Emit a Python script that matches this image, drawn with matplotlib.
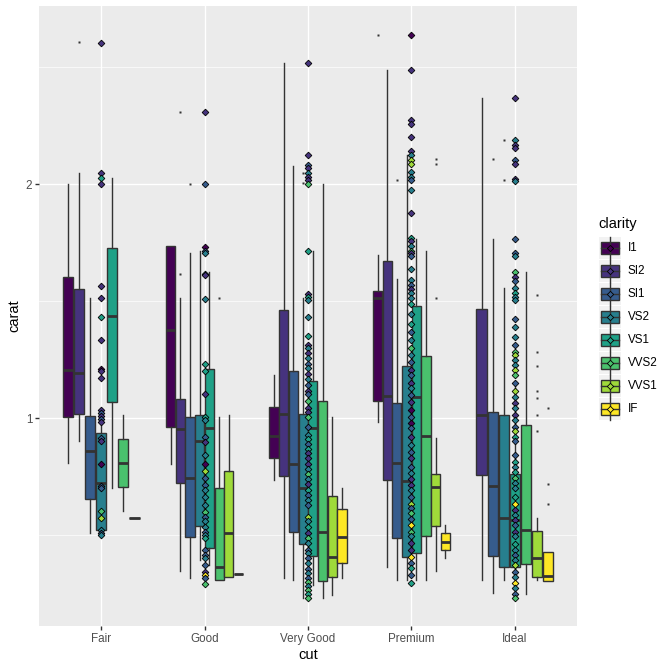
import matplotlib
matplotlib.use("Agg")
import matplotlib.pyplot as plt
from matplotlib.patches import Rectangle
from matplotlib.ticker import NullFormatter

plt.rcParams['font.family'] = ['Liberation Sans', 'DejaVu Sans']

cuts = ["Fair", "Good", "Very Good", "Premium", "Ideal"]
clarities = ["I1", "SI2", "SI1", "VS2", "VS1", "VVS2", "VVS1", "IF"]
colors = ["#440154", "#46337E", "#365C8D", "#277F8E",
          "#1FA187", "#4AC16D", "#9FDA3A", "#FDE725"]

# box stats: (lower whisker, q1, median, q3, upper whisker), carat
fair_groups = ["I1", "SI2", "SI1", "VS2", "VS1", "VVS2", "VVS1"]
fair_boxes = [(0.874, 1.002, 1.153, 1.517, 2.0), (0.935, 1.011, 1.144, 1.464, 2.065),
              (0.711, 0.786, 0.907, 1.007, 1.427), (0.707, 0.718, 0.824, 0.956, 1.009),
              (0.813, 1.048, 1.354, 1.657, 2.034), (0.760, 0.814, 0.876, 0.939, 1.009),
              (0.744, 0.744, 0.744, 0.744, 0.744)]
fair_outliers = [[], [3.045], [], [], [], [], []]

good_groups = ["I1", "SI2", "SI1", "VS2", "VS1", "VVS2", "VVS1", "IF"]
good_boxes = [(0.873, 0.973, 1.298, 1.663, 1.663), (0.635, 0.826, 0.969, 1.057, 1.425),
              (0.622, 0.702, 0.838, 1.002, 1.630), (0.657, 0.727, 0.935, 1.008, 1.639),
              (0.647, 0.681, 0.972, 1.155, 1.540), (0.619, 0.619, 0.644, 0.812, 1.002),
              (0.624, 0.624, 0.711, 0.854, 1.008), (0.630, 0.630, 0.630, 0.630, 0.630)]
good_outliers = [[], [2.478, 1.533], [2.0], [], [], [1.427], [], []]

vgood_groups = ["I1", "SI2", "SI1", "VS2", "VS1", "VVS2", "VVS1", "IF"]
vgood_boxes = [(0.831, 0.888, 0.949, 1.034, 1.136), (0.622, 0.842, 1.012, 1.379, 2.862),
               (0.619, 0.714, 0.873, 1.150, 2.110), (0.587, 0.688, 0.813, 1.013, 1.428),
               (0.610, 0.664, 0.972, 1.117, 1.639), (0.587, 0.617, 0.714, 1.051, 2.0),
               (0.592, 0.624, 0.663, 0.794, 1.002), (0.622, 0.650, 0.703, 0.763, 0.812)]
vgood_outliers = [[], [], [], [2.068, 2.006], [], [], [], []]

premium_groups = ["I1", "SI2", "SI1", "VS2", "VS1", "VVS2", "VVS1", "IF"]
premium_boxes = [(0.989, 1.052, 1.429, 1.455, 1.619), (0.644, 0.833, 1.067, 1.592, 2.800),
                 (0.618, 0.700, 0.875, 1.044, 1.510), (0.618, 0.663, 0.830, 1.166, 2.179),
                 (0.618, 0.670, 1.065, 1.393, 1.698), (0.618, 0.705, 0.949, 1.201, 1.639),
                 (0.635, 0.726, 0.814, 0.847, 0.943), (0.661, 0.676, 0.693, 0.711, 0.728)]
premium_outliers = [[3.109], [], [2.024], [], [], [], [2.155, 2.122, 1.428], []]

ideal_groups = ["SI2", "SI1", "VS2", "VS1", "VVS2", "VVS1", "IF"]
ideal_boxes = [(0.618, 0.844, 1.009, 1.383, 2.577), (0.596, 0.664, 0.818, 1.017, 1.699),
               (0.618, 0.643, 0.744, 1.008, 1.470), (0.601, 0.643, 0.739, 0.847, 1.103),
               (0.594, 0.649, 0.717, 0.979, 1.540), (0.619, 0.624, 0.661, 0.715, 0.743),
               (0.617, 0.617, 0.627, 0.672, 0.672)]
ideal_outliers = [[], [2.154], [2.278, 2.026], [], [],
                  [1.440, 1.216, 1.168, 1.084, 1.062, 1.009, 0.962], [1.030, 0.822, 0.776]]

# individual diamonds drawn at the cut centre: (carat, clarity index)
fair_pts = [(3.04, 1), (2.065, 1), (2.034, 4), (2.0, 1), (1.478, 1), (1.427, 1), (1.35, 4),
            (1.26, 1), (1.156, 0), (1.15, 1), (1.127, 1), (1.024, 1), (1.015, 2), (1.006, 1),
            (0.997, 2), (0.989, 1), (0.942, 2), (0.935, 1), (0.873, 0), (0.818, 2), (0.813, 2),
            (0.759, 5), (0.743, 6), (0.718, 3), (0.711, 2), (0.707, 3)]

good_pts = [(2.476, 1), (2.0, 2), (1.662, 0), (1.64, 2), (1.63, 3), (1.534, 3), (1.527, 1),
            (1.423, 3), (1.175, 4), (1.149, 4), (1.074, 1), (1.004, 4), (0.994, 3), (0.946, 2),
            (0.932, 1), (0.896, 3), (0.873, 0), (0.855, 6), (0.837, 2), (0.820, 2), (0.808, 3),
            (0.792, 3), (0.773, 3), (0.758, 5), (0.746, 2), (0.736, 3), (0.725, 3), (0.714, 2),
            (0.707, 3), (0.700, 4), (0.676, 2), (0.666, 2), (0.660, 3), (0.647, 2), (0.633, 1),
            (0.628, 7), (0.622, 2), (0.612, 5)]

vgood_pts = [(2.86, 1), (2.18, 1), (2.116, 2), (2.10, 1), (2.066, 3), (2.045, 1), (2.024, 1),
             (2.0, 5), (1.64, 4), (1.446, 1), (1.43, 4), (1.418, 3), (1.35, 3), (1.275, 4),
             (1.241, 1), (1.229, 3), (1.211, 1), (1.193, 3), (1.175, 2), (1.158, 3), (1.139, 1),
             (1.124, 3), (1.103, 2), (1.084, 1), (1.074, 2), (1.052, 5), (1.029, 1), (1.019, 1),
             (1.002, 5), (0.975, 2), (0.951, 3), (0.939, 4), (0.925, 2), (0.913, 4), (0.901, 1),
             (0.888, 1), (0.873, 1), (0.860, 3), (0.847, 5), (0.834, 3), (0.822, 1), (0.808, 4),
             (0.796, 2), (0.785, 3), (0.773, 2), (0.745, 6), (0.736, 3), (0.723, 4), (0.711, 1),
             (0.700, 5), (0.691, 3), (0.676, 2), (0.670, 3), (0.661, 2), (0.650, 3), (0.639, 2),
             (0.632, 3), (0.622, 2), (0.616, 5), (0.608, 3), (0.600, 5), (0.594, 4), (0.587, 5)]

premium_pts = [(3.109, 0), (2.80, 1), (2.42, 1), (2.387, 1), (2.30, 1), (2.207, 1), (2.179, 3),
               (2.15, 6), (2.122, 6), (2.075, 3), (2.045, 3), (2.024, 2), (1.965, 3), (1.834, 1),
               (1.703, 4), (1.69, 1), (1.664, 3), (1.639, 5), (1.628, 1), (1.615, 2), (1.554, 3),
               (1.507, 3), (1.483, 2), (1.464, 1), (1.447, 3), (1.425, 3), (1.40, 4), (1.36, 3),
               (1.323, 4), (1.291, 2), (1.260, 3), (1.229, 5), (1.205, 3), (1.181, 2), (1.153, 1),
               (1.136, 2), (1.108, 1), (1.092, 3), (1.070, 2), (1.050, 1), (1.024, 0), (1.004, 2),
               (0.986, 0), (0.970, 2), (0.946, 1), (0.923, 3), (0.905, 2), (0.888, 1), (0.866, 2),
               (0.849, 3), (0.834, 1), (0.820, 1), (0.808, 3), (0.792, 2), (0.775, 6), (0.765, 2),
               (0.754, 5), (0.741, 2), (0.728, 7), (0.714, 5), (0.704, 3), (0.690, 1), (0.676, 1),
               (0.662, 7), (0.650, 2), (0.641, 4), (0.628, 2), (0.614, 4)]

ideal_pts = [(2.577, 1), (2.277, 3), (2.243, 1), (2.223, 1), (2.15, 2), (2.122, 1), (2.03, 1),
             (2.017, 3), (1.698, 2), (1.628, 2), (1.615, 3), (1.539, 5), (1.519, 1), (1.50, 2),
             (1.469, 3), (1.45, 4), (1.43, 3), (1.418, 3), (1.341, 2), (1.311, 3), (1.27, 3),
             (1.24, 2), (1.217, 5), (1.205, 6), (1.187, 3), (1.170, 3), (1.153, 6), (1.136, 5),
             (1.108, 2), (1.084, 6), (1.065, 3), (1.046, 1), (1.029, 3), (1.009, 1), (0.994, 3),
             (0.975, 2), (0.963, 6), (0.946, 4), (0.935, 2), (0.896, 2), (0.879, 4), (0.866, 3),
             (0.853, 4), (0.837, 5), (0.824, 3), (0.813, 3), (0.792, 4), (0.775, 7), (0.761, 1),
             (0.750, 3), (0.739, 1), (0.728, 2), (0.714, 1), (0.704, 3), (0.689, 4), (0.676, 3),
             (0.666, 2), (0.657, 3), (0.647, 6), (0.634, 2), (0.625, 3), (0.614, 7), (0.604, 3),
             (0.594, 2), (0.587, 5)]

all_groups = [fair_groups, good_groups, vgood_groups, premium_groups, ideal_groups]
all_boxes = [fair_boxes, good_boxes, vgood_boxes, premium_boxes, ideal_boxes]
all_outliers = [fair_outliers, good_outliers, vgood_outliers, premium_outliers, ideal_outliers]
all_pts = [fair_pts, good_pts, vgood_pts, premium_pts, ideal_pts]

fig = plt.figure(figsize=(6.72, 6.71), dpi=100)
ax = fig.add_axes([39/672, 45/671, 538/672, 620/671])
ax.set_facecolor("#EBEBEB")
for s in ax.spines.values():
    s.set_visible(False)

ax.set_yscale('log', base=2)
ax.set_ylim(0.540, 3.389)
ax.set_xlim(0.4, 5.6)

dodge = 0.75
for i in range(len(cuts)):
    groups = all_groups[i]
    n = len(groups)
    slot = dodge / n
    for j, cl in enumerate(groups):
        lo, q1, med, q3, hi = all_boxes[i][j]
        st = dict(whislo=lo, q1=q1, med=med, q3=q3, whishi=hi, fliers=all_outliers[i][j])
        xpos = i + 1 - dodge / 2 + slot * (j + 0.5)
        art = ax.bxp([st], positions=[xpos], widths=[slot * 0.94], patch_artist=True,
                     showcaps=False, manage_ticks=False,
                     boxprops=dict(edgecolor="#333333", linewidth=1.0),
                     whiskerprops=dict(color="#333333", linewidth=1.0),
                     medianprops=dict(color="#333333", linewidth=2.0),
                     flierprops=dict(marker='s', markersize=1.6, markerfacecolor="#333333",
                                     markeredgecolor="none"))
        art['boxes'][0].set_facecolor(colors[clarities.index(cl)])

for i, pts in enumerate(all_pts):
    for val, c in pts:
        ax.plot(i + 1, val, marker='D', markersize=3.4, markerfacecolor=colors[c],
                markeredgecolor="black", markeredgewidth=0.6, linestyle='none', zorder=4)

ax.set_xticks(range(1, 6))
ax.set_xticklabels(cuts)
ax.set_yticks([1, 2])
ax.set_yticklabels(["1", "2"])
ax.set_yticks([0.7071, 1.4142, 2.8284], minor=True)
ax.yaxis.set_minor_formatter(NullFormatter())
ax.tick_params(axis='both', which='major', length=2.7, width=1.0, color="#333333",
               labelcolor="#4D4D4D", labelsize=8.4, pad=2.2)
ax.tick_params(axis='y', which='minor', length=0)
ax.set_axisbelow(True)
ax.grid(which='major', color='white', linewidth=1.0)
ax.grid(which='minor', axis='y', color='white', linewidth=0.5)
ax.set_xlabel("cut", fontsize=10.5, labelpad=2.5)
ax.set_ylabel("carat", fontsize=10.5, labelpad=3.0)

# legend drawn in pixel coordinates
lg = fig.add_axes([0, 0, 1, 1])
lg.set_xlim(0, 672)
lg.set_ylim(671, 0)
lg.axis('off')
lg.text(598, 224, "clarity", fontsize=10.5, va='center', ha='left')
for k, cl in enumerate(clarities):
    cy = 248 + 23 * k
    lg.add_patch(Rectangle((599, cy - 11), 22, 22, facecolor="#F2F2F2", edgecolor='none'))
    lg.plot([610, 610], [cy - 11, cy + 11], color="#333333", linewidth=1.0)
    lg.add_patch(Rectangle((601, cy - 6), 18, 12, facecolor=colors[k],
                           edgecolor="#333333", linewidth=1.0))
    lg.plot([601, 619], [cy, cy], color="#333333", linewidth=1.0)
    lg.plot(610, cy, marker='D', markersize=3.2, markerfacecolor=colors[k],
            markeredgecolor="black", markeredgewidth=0.6)
    lg.text(628, cy, cl, fontsize=8.4, va='center', ha='left')

fig.savefig("out.png", dpi=100)
